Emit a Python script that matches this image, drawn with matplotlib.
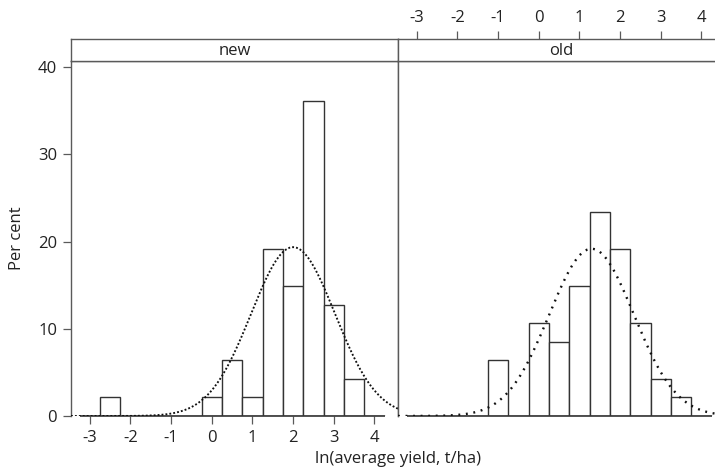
"""
Percentage histograms of log average yield for new and old plantings,
drawn as two side-by-side panels with a fitted normal curve in each.
"""

import numpy as np
import matplotlib
matplotlib.use("Agg")
import matplotlib.pyplot as plt

plt.rcParams["font.family"] = ["Open Sans", "DejaVu Sans"]

# Histogram bins (centres, width 0.5) shared by both panels
bin_centres = [-3.0, -2.5, -2.0, -1.5, -1.0, -0.5, 0.0, 0.5,
               1.0, 1.5, 2.0, 2.5, 3.0, 3.5, 4.0]
bin_width = 0.5

# Counts per bin
new_counts = [0, 1, 0, 0, 0, 0, 1, 3, 1, 9, 7, 17, 6, 2, 0]
old_counts = [0, 0, 0, 0, 3, 0, 5, 4, 7, 11, 9, 5, 2, 1, 0]

# Normal fit (mean, sd) overlaid on each panel
new_fit = (2.0, 1.03)
old_fit = (1.3, 1.04)

x_ticks = [-3, -2, -1, 0, 1, 2, 3, 4]
y_ticks = [0, 10, 20, 30, 40]

XLIM = (-3.46, 4.58)
YLIM = (0, 40.75)
FRAME = "#5a5a5a"
TEXT = "#222222"
FS = 12


def normal_percent(x, mu, sd):
    """Normal density scaled to per cent of observations per bin."""
    dens = np.exp(-0.5 * ((x - mu) / sd) ** 2) / (sd * np.sqrt(2 * np.pi))
    return 100 * bin_width * dens


def draw_panel(fig, left, counts, fit, name, dash, lw):
    bottom, height = 0.1242, 0.748
    width = 0.4573
    ax = fig.add_axes([left, bottom, width, height])
    pct = np.array(counts) / sum(counts) * 100
    ax.bar(bin_centres, pct, width=bin_width, facecolor="white",
           edgecolor="#333333", linewidth=1.0, zorder=2)
    # empty bins still show as a line along zero
    lo = bin_centres[0] - bin_width / 2
    hi = bin_centres[-1] + bin_width / 2
    ax.hlines(0, lo, hi, color="#333333", linewidth=1.2, zorder=2,
              clip_on=False)
    xs = np.linspace(XLIM[0], XLIM[1], 400)
    ax.plot(xs, normal_percent(xs, *fit), color="#111111",
            linestyle=dash, linewidth=lw, zorder=3)
    ax.set_xlim(*XLIM)
    ax.set_ylim(*YLIM)
    for side in ("left", "right", "top"):
        ax.spines[side].set_color(FRAME)
        ax.spines[side].set_linewidth(1.0)
    ax.spines["bottom"].set_visible(False)
    ax.tick_params(colors=FRAME, labelcolor=TEXT, labelsize=FS,
                   length=6, width=0.9, direction="out", pad=4)

    # strip with the group name
    strip = fig.add_axes([left, bottom + height, width, 0.0457])
    strip.set_xticks([])
    strip.set_yticks([])
    for s in strip.spines.values():
        s.set_color(FRAME)
        s.set_linewidth(1.0)
    strip.text(0.5, 0.45, name, ha="center", va="center",
               fontsize=FS, color=TEXT, transform=strip.transAxes)
    return ax, strip


fig = plt.figure(figsize=(7.15, 4.75), dpi=100)

ax_new, strip_new = draw_panel(fig, 0.0993, new_counts, new_fit, "new",
                               (0, (1.0, 1.1)), 1.35)
ax_old, strip_old = draw_panel(fig, 0.0993 + 0.4573, old_counts, old_fit, "old",
                               (0, (0.8, 2.4)), 1.7)

# alternating axes: bottom ticks on the left panel, top ticks on the right
ax_new.set_xticks(x_ticks)
ax_new.set_xticklabels([str(t) for t in x_ticks])
ax_new.set_yticks(y_ticks)
ax_new.set_yticklabels([str(t) for t in y_ticks])
ax_new.set_ylabel("Per cent", fontsize=FS, color=TEXT, labelpad=9)

ax_old.set_yticks([])
ax_old.set_xticks([])
strip_old.xaxis.tick_top()
strip_old.set_xlim(*XLIM)
strip_old.set_xticks(x_ticks)
strip_old.set_xticklabels([str(t) for t in x_ticks])
strip_old.tick_params(axis="x", colors=FRAME, labelcolor=TEXT, labelsize=FS,
                      length=6, width=0.9, direction="out", pad=3)

fig.text(0.5566, 0.017, "ln(average yield, t/ha)", ha="center", va="bottom",
         fontsize=FS, color=TEXT)

fig.savefig("out.png", dpi=100)
